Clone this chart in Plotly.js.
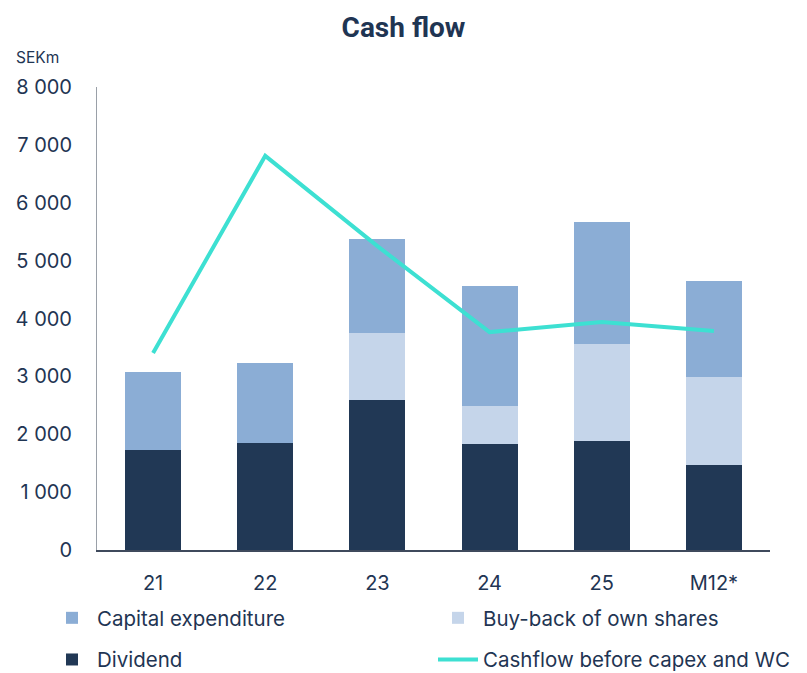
<!DOCTYPE html>
<html>
<head>
<meta charset="utf-8">
<script src="https://cdn.plot.ly/plotly-3.0.1.min.js"></script>
<style>html,body{margin:0;padding:0;background:#fff;}#chart{width:807px;height:673px;}</style>
</head>
<body>
<div id="chart"></div>
<script>
const categories = ["21", "22", "23", "24", "25", "M12*"];
const dividend = [1730, 1850, 2590, 1830, 1880, 1470];
const buyback = [0, 0, 1160, 655, 1680, 1520];
const capex = [1345, 1380, 1625, 2075, 2105, 1660];
const cashflow = [3405, 6810, 5250, 3765, 3940, 3785];

const navy = "#1F3553";
const font = "Inter, Roboto, sans-serif";

const traces = [
  {type: "bar", name: "Dividend", x: categories, y: dividend, marker: {color: "#213855"},
   legend: "legend", legendgroup: "d", legendrank: 2},
  {type: "bar", name: "Buy-back of own shares", x: categories, y: buyback, marker: {color: "#C5D5EA"},
   legend: "legend2", legendgroup: "b", legendrank: 1},
  {type: "bar", name: "Capital expenditure", x: categories, y: capex, marker: {color: "#8BADD5"},
   legend: "legend", legendgroup: "c", legendrank: 1},
  {type: "scatter", mode: "lines", name: "Cashflow before capex and WC", x: categories, y: cashflow,
   line: {color: "#3DE0D2", width: 4}, legend: "legend2", legendgroup: "f", legendrank: 2}
];

const legendBase = {
  orientation: "v", xref: "container", yref: "container", y: 1 - 598/673,
  xanchor: "left", yanchor: "top", font: {size: 20.5, color: navy},
  traceorder: "grouped", tracegroupgap: 12, itemwidth: 40, bgcolor: "rgba(0,0,0,0)"
};

const layout = {
  width: 807, height: 673,
  margin: {l: 97, r: 37, t: 87, b: 123, autoexpand: false},
  paper_bgcolor: "#fff", plot_bgcolor: "#fff",
  separators: ". ",
  barmode: "stack", bargap: 0.5,
  font: {family: font, color: navy, size: 19},
  title: {text: "<b>Cash flow</b>", font: {family: "Roboto, sans-serif", size: 28, color: navy},
          x: 0.5, xref: "container", y: 1 - 27/673, yref: "container", yanchor: "middle"},
  xaxis: {type: "category", showline: true, linecolor: "#3f4a5c", linewidth: 1.5, ticks: "",
          tickfont: {size: 20, color: navy}, showgrid: false, zeroline: false, ticklabelstandoff: 14},
  yaxis: {range: [0, 8000], dtick: 1000, tickformat: ",d", showline: true, linecolor: "#9aa0a8", linewidth: 1,
          ticks: "", showgrid: false, zeroline: false, tickfont: {size: 20, color: navy}, ticklabelstandoff: 20},
  legend: Object.assign({}, legendBase, {x: 47/807}),
  legend2: Object.assign({}, legendBase, {x: 433/807}),
  annotations: [
    {text: "SEKm", xref: "paper", yref: "paper", x: (14 - 97) / 673, y: (550 - 57) / 463,
     xanchor: "left", yanchor: "middle", showarrow: false, font: {size: 15.5, color: navy}}
  ]
};

Plotly.newPlot("chart", traces, layout, {displayModeBar: false, staticPlot: true});
</script>
</body>
</html>
